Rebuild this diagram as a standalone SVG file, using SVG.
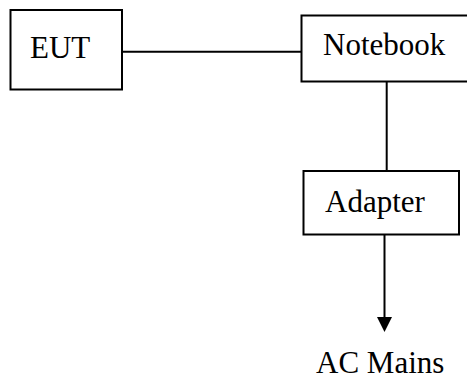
<svg xmlns="http://www.w3.org/2000/svg" width="467" height="379" viewBox="0 0 467 379">
<style>
.box{fill:#fff;stroke:#000;stroke-width:2}
.lbl{font-family:"Liberation Serif","Times New Roman",serif;font-size:31px;fill:#000}
.ln{stroke:#000;stroke-width:2;fill:none}
</style>
<rect width="467" height="379" fill="#fff"/>
<g id="connectors">
<line class="ln" x1="122" y1="51.7" x2="301" y2="51.7"/>
<line class="ln" x1="386.7" y1="82" x2="386.7" y2="171"/>
<line class="ln" x1="384.5" y1="235" x2="384.5" y2="318"/>
<polygon points="377,317 392,317 384.5,332" fill="#000"/>
</g>
<g id="eut">
<rect class="box" x="10.5" y="10" width="111.5" height="79.5"/>
<text class="lbl" x="30" y="58.3">EUT</text>
</g>
<g id="notebook">
<rect class="box" x="301.5" y="15.5" width="170" height="66"/>
<text class="lbl" x="323" y="55">Notebook</text>
</g>
<g id="adapter">
<rect class="box" x="303.5" y="171" width="155.5" height="63.5"/>
<text class="lbl" x="325" y="211.7">Adapter</text>
</g>
<g id="acmains">
<text class="lbl" x="316" y="373">AC Mains</text>
</g>
</svg>
